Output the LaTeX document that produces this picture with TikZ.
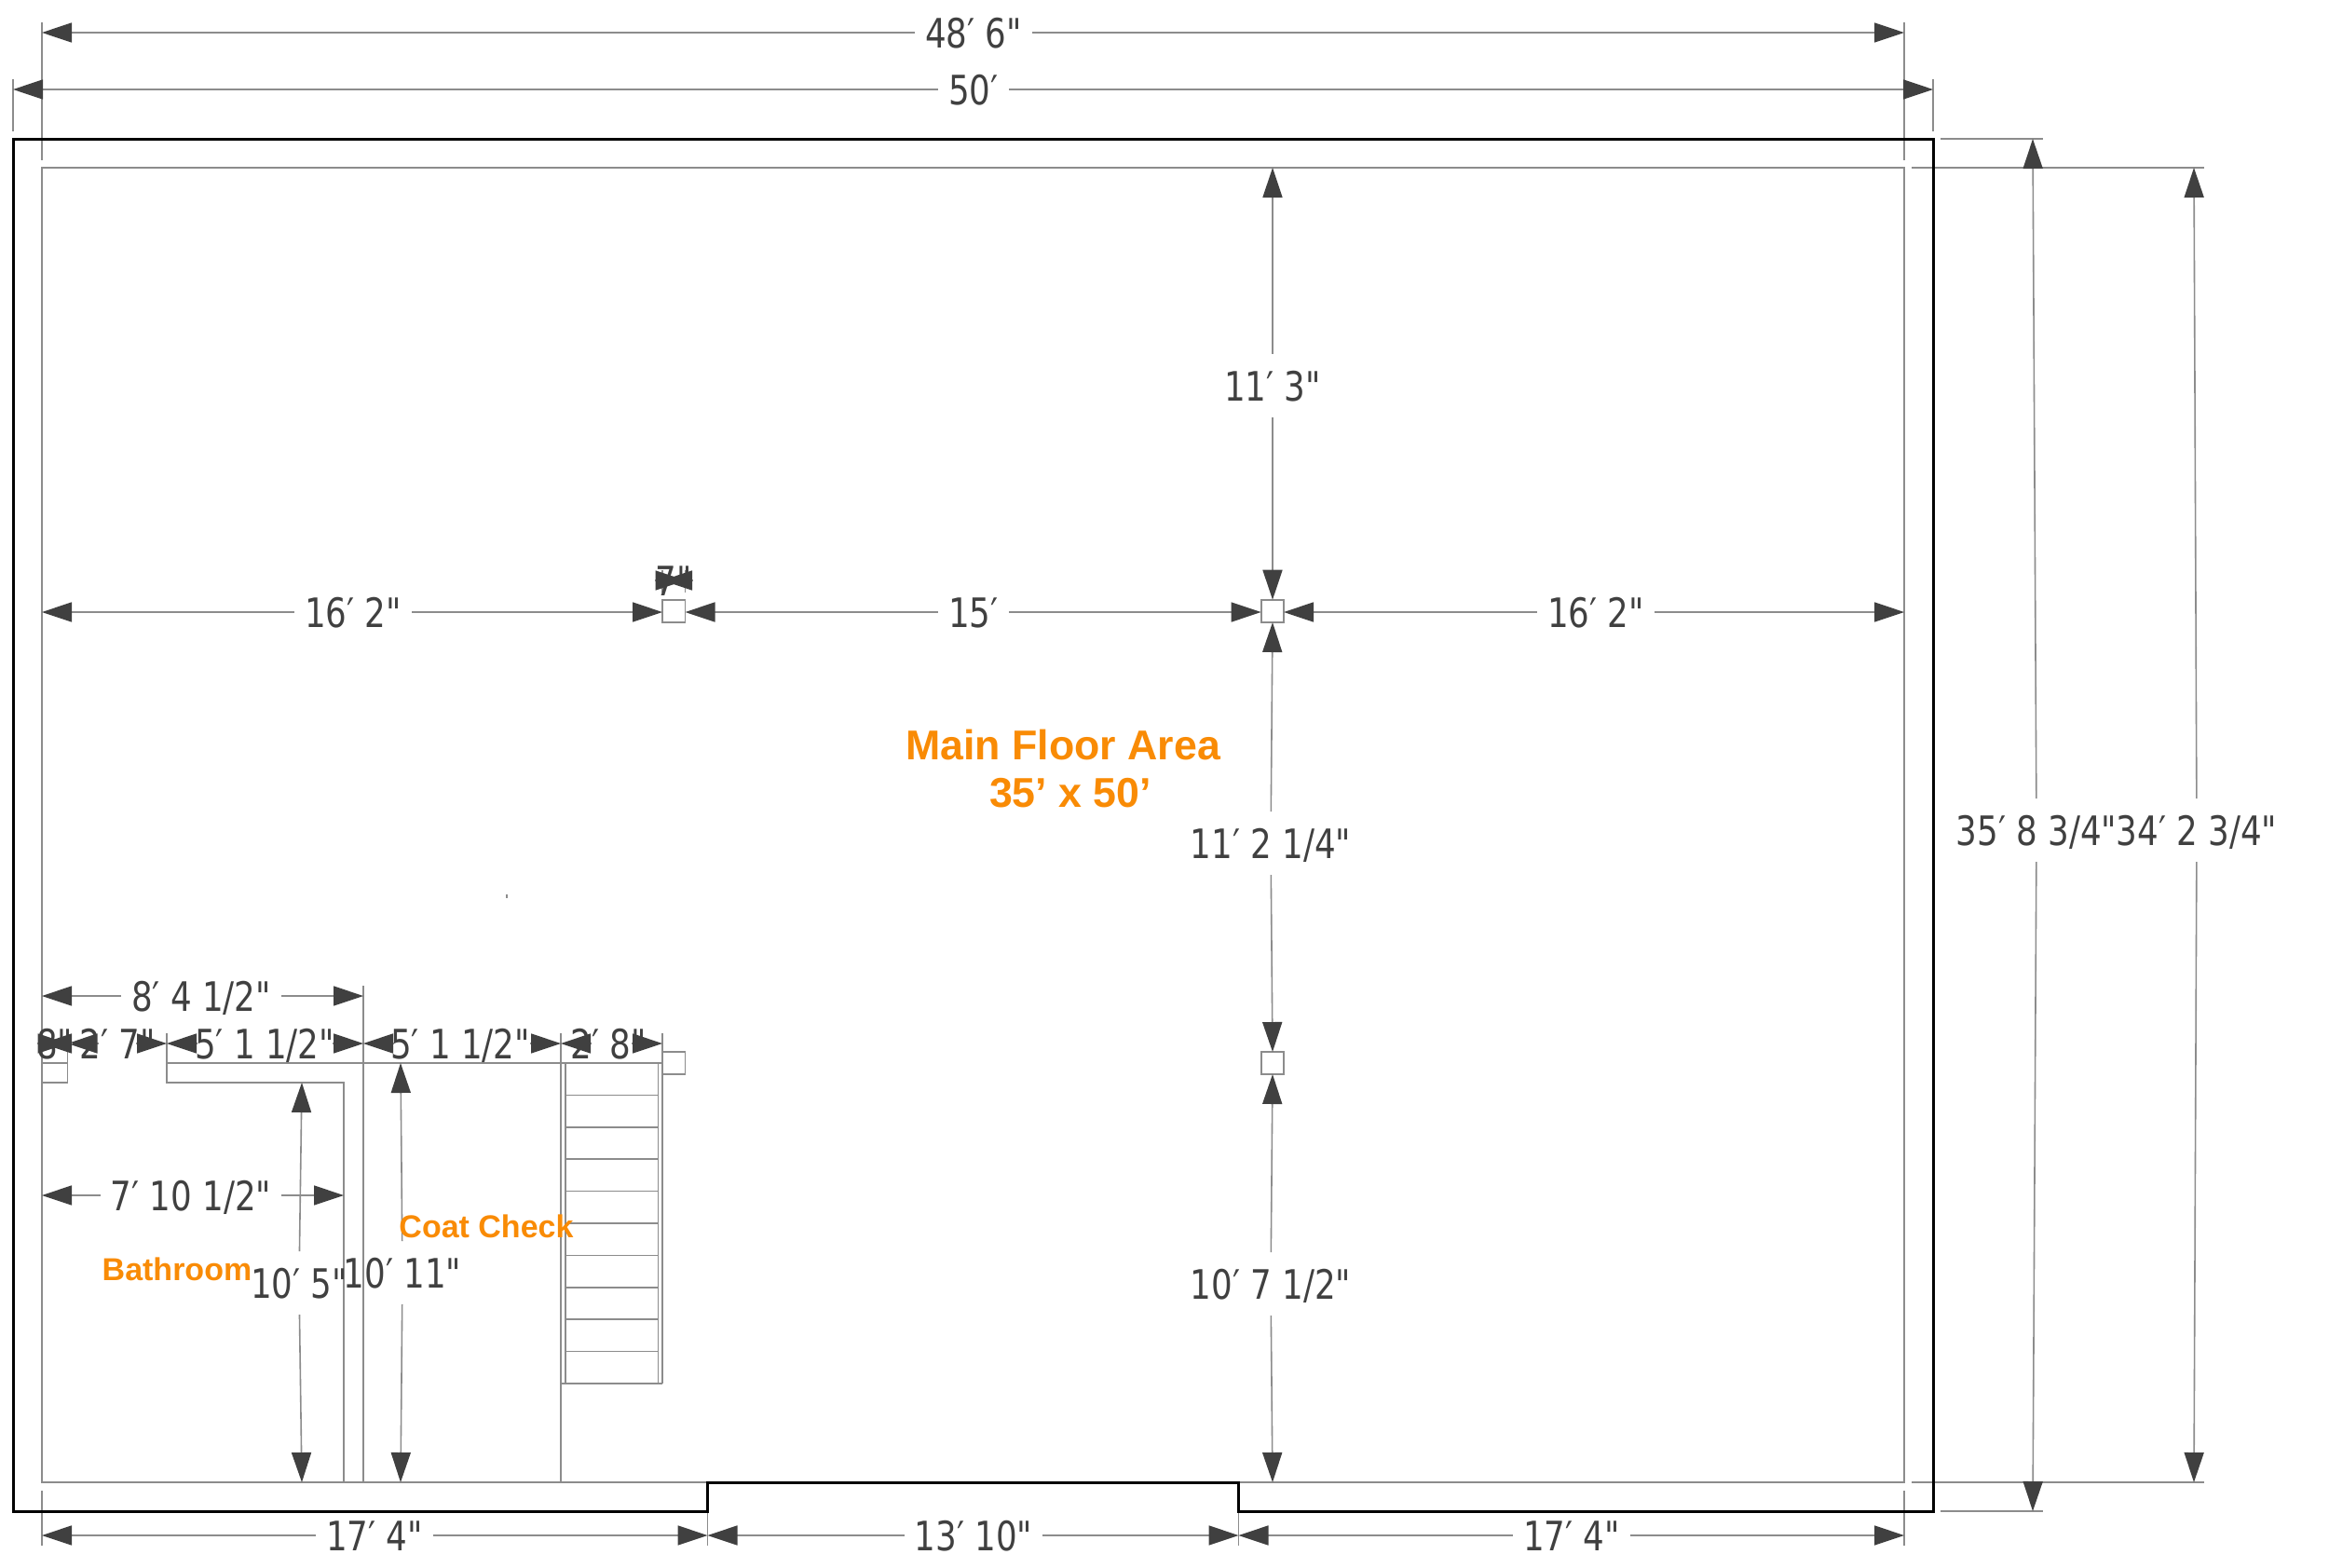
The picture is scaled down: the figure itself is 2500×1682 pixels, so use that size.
\documentclass[tikz,border=0pt]{standalone}
\usepackage{fontspec}
\usetikzlibrary{arrows.meta,calc}
\newfontfamily\dimfont{DejaVu Sans}[FakeStretch=0.82]
\newfontfamily\roomfont{Liberation Sans}[BoldFont={Liberation Sans Bold}]
\definecolor{wallgray}{HTML}{8C8C8C}
\definecolor{tipgray}{HTML}{404040}
\definecolor{roomorange}{HTML}{F98B05}
\tikzset{
  wall/.style={draw=wallgray,line width=1.6pt},
  outerwall/.style={draw=black,line width=3pt,line join=miter},
  dimline/.style={draw=wallgray,line width=1.6pt,
    {Triangle[length=32pt,width=21pt,color=tipgray,fill=tipgray]}-},
  dimlabel/.style={font=\dimfont\fontsize{43.5pt}{43.5pt}\selectfont,text=tipgray,
    inner xsep=11pt,inner ysep=18pt,text height=32pt,text depth=0pt,outer sep=0pt},
  roomlabel/.style={font=\roomfont\bfseries,text=roomorange,inner sep=0pt},
  column/.style={draw=wallgray,line width=1.6pt,fill=white},
}
\newcommand{\dimrun}[5]{%
  \coordinate (#1a) at (#2);
  \coordinate (#1b) at (#3);
  \node[dimlabel] (#1t) at (#4) {#5};
  \draw[dimline] (#1a) -- (#1t);
  \draw[dimline] (#1b) -- (#1t);
}
\newcommand{\dimtight}[5]{%
  \coordinate (#1a) at (#2);
  \coordinate (#1b) at (#3);
  \node[dimlabel] (#1t) at (#4) {#5};
  \draw[dimline] (#1a) -- ($(#1a)!33pt!(#1b)$);
  \draw[dimline] (#1b) -- ($(#1b)!33pt!(#1a)$);
}
\begin{document}
\begin{tikzpicture}[x=1pt,y=-1pt]
\useasboundingbox (0,0) rectangle (2500,1682);
\fill[white] (0,0) rectangle (2500,1682);
% inner rectangle and extension lines
\draw[wall] (45,180) rectangle (2044,1591);
\draw[wall] (45,24) -- (45,172);
\draw[wall] (2044,24) -- (2044,172);
\draw[wall] (14,85) -- (14,141);
\draw[wall] (2075,85) -- (2075,141);
\draw[wall] (2083,149) -- (2193,149);
\draw[wall] (2052,180) -- (2366,180);
\draw[wall] (2052,1591) -- (2366,1591);
\draw[wall] (2083,1622) -- (2193,1622);
\draw[wall] (45,1600) -- (45,1659);
\draw[wall] (2044,1600) -- (2044,1659);
\draw[wall] (759.5,1622) -- (759.5,1659);
\draw[wall] (1329.5,1622) -- (1329.5,1659);
% outer wall
\draw[outerwall] (14,149) -- (2075,149) -- (2075,1622) -- (1329.5,1622) -- (1329.5,1591)
  -- (759.5,1591) -- (759.5,1622) -- (14,1622) -- cycle;
% interior walls
\draw[wall] (45,1141) -- (72.5,1141) -- (72.5,1162) -- (45,1162);
\draw[wall] (72.5,1109) -- (72.5,1141);
\draw[wall] (179,1109) -- (179,1162) -- (369,1162) -- (369,1591);
\draw[wall] (179,1141) -- (711,1141);
\draw[wall] (390,1058) -- (390,1591);
\draw[wall] (602,1109) -- (602,1591);
\draw[wall] (711,1109) -- (711,1485);
\draw[wall] (602,1485) -- (711,1485);
\draw[wall] (606.7,1141) -- (606.7,1485);
\draw[wall] (706.5,1141) -- (706.5,1485);
\foreach \k in {1,...,9} {\draw[wall] (606.7,1141+34.4*\k) -- (706.5,1141+34.4*\k);}
% ticks for the column dimension
\draw[wall] (711,612) -- (711,636);
\draw[wall] (735.5,612) -- (735.5,636);
% columns
\draw[column] (711,643.7) rectangle (735.5,668);
\draw[column] (1354,643.7) rectangle (1378,668);
\draw[column] (1354,1129) rectangle (1378,1153);
\draw[column] (711,1129) rectangle (735.5,1153);
\fill[wallgray] (542.5,960) rectangle (544.5,964);
% dimensions
\dimrun{a}{45,35}{2044,35}{1045,35}{48′ 6"}
\dimrun{b}{14,96}{2075,96}{1045,96}{50′}
\dimrun{c}{45,657}{711,657}{379,657}{16′ 2"}
\dimrun{d}{735.5,657}{1353.6,657}{1045,657}{15′}
\dimrun{e}{1378,657}{2044,657}{1713,657}{16′ 2"}
\dimrun{f}{1366,180}{1366,643.7}{1366,414}{11′ 3"}
\dimrun{g}{1366,668}{1366,1129}{1364,905}{11′ 2 1/4"}
\dimrun{h}{1366,1153}{1366,1591}{1364,1378}{10′ 7 1/2"}
\dimrun{i}{2182,149}{2182,1622}{2186,891}{35′ 8 3/4"}
\dimrun{j}{2355,180}{2355,1591}{2358,891}{34′ 2 3/4"}
\dimrun{k}{45,1648}{759.5,1648}{402,1648}{17′ 4"}
\dimrun{l}{759.5,1648}{1329.5,1648}{1045,1648}{13′ 10"}
\dimrun{m}{1329.5,1648}{2044,1648}{1687,1648}{17′ 4"}
\dimrun{n}{45,1069}{390,1069}{216,1069}{8′ 4 1/2"}
\dimrun{o}{45,1283}{369,1283}{205,1283}{7′ 10 1/2"}
\dimrun{p}{324,1162}{324,1591}{321,1377}{10′ 5"}
\dimrun{q}{430,1141}{430,1591}{432,1366}{10′ 11"}
\dimtight{r}{179,1120}{390,1120}{284,1120}{5′ 1 1/2"}
\dimtight{s}{390,1120}{602,1120}{494,1120}{5′ 1 1/2"}
\dimtight{t}{602,1120}{711,1120}{653,1120}{2′ 8"}
\dimtight{u}{72.5,1120}{179,1120}{126,1120}{2′ 7"}
\dimtight{v}{45,1120}{72.5,1120}{58.8,1120}{8"}
\dimtight{w}{711,623}{735.5,623}{723,623}{7"}
% room names
\node[roomlabel,font=\roomfont\bfseries\fontsize{44.7pt}{44.7pt}\selectfont] (mainname) at (1141,800) {Main Floor Area};
\node[roomlabel,font=\roomfont\bfseries\fontsize{44.7pt}{44.7pt}\selectfont] (mainsize) at (1149,851) {35’ x 50’};
\node[roomlabel,font=\roomfont\bfseries\fontsize{34pt}{34pt}\selectfont] (coat) at (522,1316) {Coat Check};
\node[roomlabel,font=\roomfont\bfseries\fontsize{34pt}{34pt}\selectfont] (bath) at (190,1362) {Bathroom};
\end{tikzpicture}
\end{document}
